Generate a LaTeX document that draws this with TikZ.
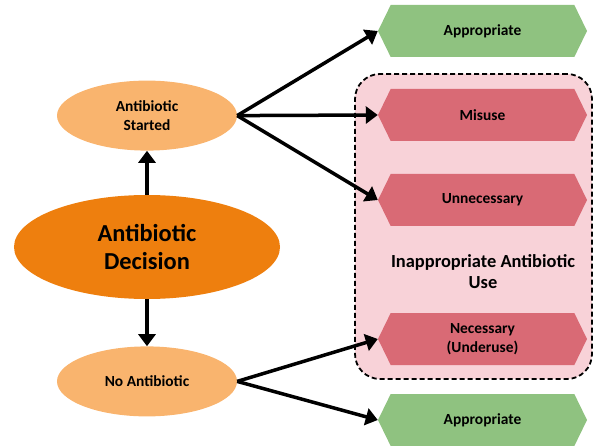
\documentclass[tikz,border=0pt]{standalone}
\usepackage{fontspec}
\setmainfont{Carlito}
\usetikzlibrary{positioning, arrows.meta, shapes.geometric, shapes.symbols}
\definecolor{decOrange}{RGB}{238,127,14}
\definecolor{lightOrange}{RGB}{249,180,110}
\definecolor{okGreen}{RGB}{143,194,128}
\definecolor{badRed}{RGB}{217,106,117}
\definecolor{boxPink}{RGB}{248,210,216}

\begin{document}
\begin{tikzpicture}[
    x=1bp, y=-1bp,
    choice_style/.style={ellipse, fill=lightOrange, minimum width=180bp,
      minimum height=70bp, align=center,
      font=\fontsize{15.5}{19}\selectfont\bfseries},
    decision_style/.style={ellipse, fill=decOrange, minimum width=266bp,
      minimum height=104bp, align=center,
      font=\fontsize{24.5}{28}\selectfont\bfseries},
    hex_style/.style={signal, signal to=west and east,
      signal pointer angle=128, minimum width=209bp, minimum height=52bp,
      inner sep=0pt, align=center,
      font=\fontsize{15.5}{19}\selectfont\bfseries},
    ok_style/.style={hex_style, fill=okGreen},
    bad_style/.style={hex_style, fill=badRed},
    arrow_style/.style={line width=3.5bp,
      -{Triangle[length=12bp,width=17bp]}}
]
    \useasboundingbox (0,0) rectangle (595,446);

    % --- Decision et ses deux issues ---
    \node[decision_style] (dec) at (147,247) {Antibiotic\\Decision};
    \node[choice_style, above=44bp of dec] (started) {Antibiotic\\Started};
    \node[choice_style, below=47bp of dec] (noab) {No Antibiotic};

    % --- Cadre usage inapproprie ---
    \node[draw, dashed, dash pattern=on 5bp off 3bp, line width=1.8bp,
          rounded corners=25bp, fill=boxPink, minimum width=237bp,
          minimum height=305bp] (inap_box) at (473.5,226.5) {};
    \node[font=\fontsize{18.5}{21}\selectfont\bfseries, align=center]
        (inap_lbl) at (483,272) {Inappropriate Antibiotic\\Use};

    % --- Hexagones ---
    \node[ok_style]  (app_top) at (482.5,31)  {Appropriate};
    \node[bad_style] (misuse)  at (482.5,115) {Misuse};
    \node[bad_style] (unnec)   at (482.5,200) {Unnecessary};
    \node[bad_style] (under)   at (482.5,339) {Necessary\\(Underuse)};
    \node[ok_style]  (app_bot) at (482.5,420) {Appropriate};

    % --- Fleches ---
    \draw[arrow_style] (dec.north) -- (started.south);
    \draw[arrow_style] (dec.south) -- (noab.north);
    \draw[arrow_style] (started.east) -- (app_top.west);
    \draw[arrow_style] (started.east) -- (misuse.west);
    \draw[arrow_style] (started.east) -- (unnec.west);
    \draw[arrow_style] (noab.east) -- (under.west);
    \draw[arrow_style] (noab.east) -- (app_bot.west);

\end{tikzpicture}
\end{document}
